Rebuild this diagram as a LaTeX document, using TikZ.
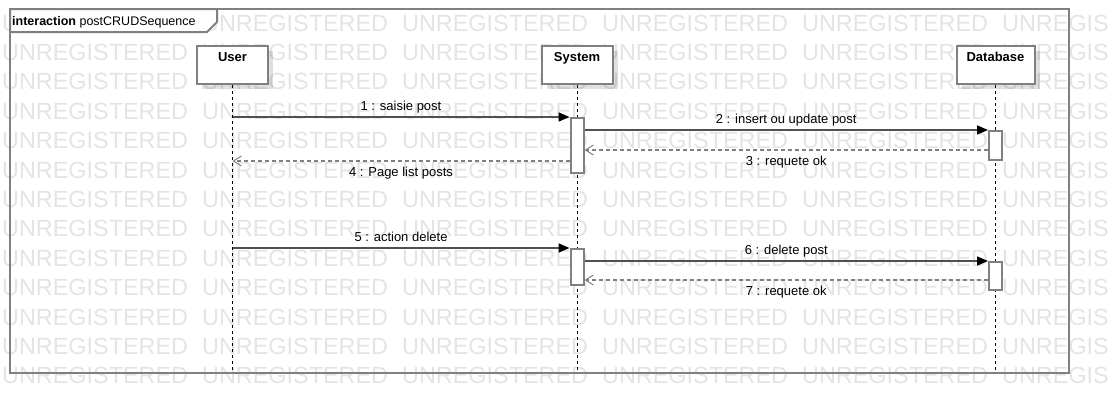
\documentclass[tikz,border=0pt]{standalone}
\usepackage{fontspec}
\setmainfont{Liberation Sans}
\usetikzlibrary{arrows.meta,shadows,calc,positioning}
\definecolor{umlgray}{RGB}{128,128,128}
\definecolor{msggray}{RGB}{80,80,80}
\definecolor{wmgray}{RGB}{228,228,228}
\def\msgfont{\fontsize{13}{15}\selectfont}
\tikzset{
  seq scheme/.style = {
    x = 1pt, y = -1pt,
    % cadre et filigrane
    frame line/.style = {draw=umlgray, line width=2pt},
    wmark/.style = {text=wmgray, font=\fontsize{23.4}{26}\selectfont,
      anchor=base west, inner sep=0pt},
    % participants
    part/.style = {frame line, fill=white, minimum height=38pt,
      inner sep=0pt, anchor=north,
      drop shadow={shadow xshift=5pt, shadow yshift=-5pt, opacity=0.12, fill=black}},
    pname/.style = {font=\msgfont\bfseries, inner sep=0pt,
      anchor=north, yshift=-7pt},
    act/.style = {frame line, fill=white, minimum width=13pt,
      inner sep=0pt, anchor=north},
    lifeline/.style = {black, line width=1pt, dash pattern=on 3pt off 3pt},
    % messages
    call/.style  = {msggray, line width=1.6pt,
      -{Triangle[length=11pt, width=9pt, color=black]}},
    reply/.style = {umlgray, line width=1.6pt, dash pattern=on 4pt off 3pt,
      -{Straight Barb[length=8pt, width=10pt, line width=1pt]}},
    up lbl/.style   = {font=\msgfont, text=black, anchor=base,
      inner sep=0pt, yshift=6.5pt},
    down lbl/.style = {font=\msgfont, text=black, anchor=base,
      inner sep=0pt, yshift=-15pt},
  }
}
\begin{document}
\begin{tikzpicture}[seq scheme]
\useasboundingbox (0,0) rectangle (1109,413);
% filigrane
\foreach \r in {0,...,12}
  \foreach \c in {0,...,5}
    \node[wmark] at (2+200*\c, 31+29.4*\r) {UNREGISTERED};

%---------------------------------------------
\draw[frame line] (10,9) rectangle (1069,373);
\draw[frame line, fill=white] (10,9) -- (217,9) -- (217,22) -- (207,32) -- (10,32) -- cycle;
\node[anchor=base west, inner sep=0pt, font=\fontsize{12.5}{15}\selectfont] (title) at (12,25)
  {\textbf{interaction} postCRUDSequence};

\coordinate (bottom) at (0,370);
\node[part, minimum width=71pt, label={[pname]north:User}]     (usr) at (232.5,45) {};
\node[part, minimum width=71pt, label={[pname]north:System}]   (sys) at (577,45) {};
\node[part, minimum width=78pt, label={[pname]north:Database}] (db)  at (995.5,45) {};

\draw[lifeline] (usr.south) -- (usr.south |- bottom);
\draw[lifeline] (sys.south) -- (sys.south |- bottom);
\draw[lifeline] (db.south)  -- (db.south |- bottom);

\node[act, minimum height=55pt] (a1) at (577,117) {};
\node[act, minimum height=29pt] (a2) at (995.5,130) {};
\node[act, minimum height=36pt] (a3) at (577,248) {};
\node[act, minimum height=28pt] (a4) at (995.5,261) {};

\coordinate (r3) at (0,150);
\coordinate (r4) at (0,161);
\coordinate (r7) at (0,280);

%---------------------------------------------
\draw[call]  (usr.south |- a1.north) -- (a1.north west) node[midway, up lbl] {1 : saisie post};
\draw[call]  (a1.east |- a2.north) -- (a2.north west) node[midway, up lbl] {2 : insert ou update post};
\draw[reply] (a2.west |- r3) -- (a1.east |- r3) node[midway, down lbl] {3 : requete ok};
\draw[reply] (a1.west |- r4) -- (usr.south |- r4) node[midway, down lbl] {4 : Page list posts};

\draw[call]  (usr.south |- a3.north) -- (a3.north west) node[midway, up lbl] {5 : action delete};
\draw[call]  (a3.east |- a4.north) -- (a4.north west) node[midway, up lbl] {6 : delete post};
\draw[reply] (a4.west |- r7) -- (a3.east |- r7) node[midway, down lbl] {7 : requete ok};
\end{tikzpicture}
\end{document}
